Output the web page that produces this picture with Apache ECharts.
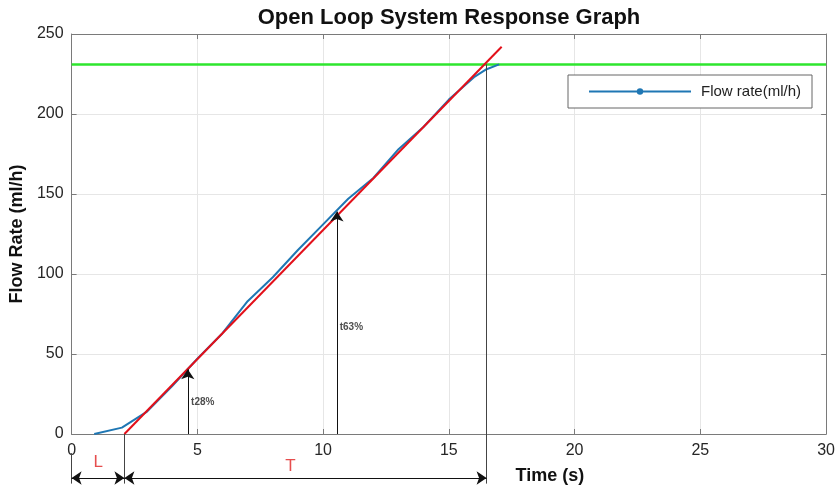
<!DOCTYPE html>
<html><head><meta charset="utf-8">
<script src="https://cdn.jsdelivr.net/npm/echarts@6/dist/echarts.min.js"></script>
<style>html,body{margin:0;padding:0;background:#fff}#c{width:838px;height:490px}</style>
</head><body><div id="c"></div>
<script>
// ---- data ----
const timeS    = [0.9, 2, 3, 4, 5, 6, 7, 8, 9, 10, 11, 12, 13, 14, 15, 16, 16.5, 17];
const flowRate = [0, 4, 14, 30, 47, 63, 83, 98, 115, 131, 147, 160, 178, 192, 209, 223, 228, 231];
const tangentT = [2.1, 17.1];
const tangentV = [0, 242];
const setpointT = [0, 30];
const setpointV = [231, 231];
const deadTime = 2.1;      // L ends / T starts
const riseEnd = 16.5;      // T ends
const t28 = [4.62, 40.4];  // arrow x, tip value
const t63 = [10.55, 139];
const dimY = -27.5;        // level of the L / T dimension arrows
const guideBottom = -31;   // lower end of the guide lines
const xTickMin = 0, xTickMax = 30, xTickStep = 5;
const yTickMin = 0, yTickMax = 250, yTickStep = 50;
const annoLabels = [
  {name: 'L', t: 1.06, v: -18, color: '#e02020', size: 17, weight: 'normal', align: 'center'},
  {name: 'T', t: 8.7, v: -20, color: '#e02020', size: 17, weight: 'normal', align: 'center'},
  {name: 't28%', t: 4.75, v: 20, color: '#222', size: 10, weight: 'bold', align: 'left'},
  {name: 't63%', t: 10.66, v: 67, color: '#222', size: 10, weight: 'bold', align: 'left'}
];
// ---- chart ----
const FONT = 'Liberation Sans, Arial, sans-serif';
const chart = echarts.init(document.getElementById('c'), null, {renderer: 'canvas'});
const pair = (a, b) => a.map((x, i) => [x, b[i]]);
const axisBase = {
  type: 'value',
  axisLine: {show: true, onZero: false, lineStyle: {color: '#7a7a7a', width: 1}},
  axisTick: {show: true, inside: true, length: 5, lineStyle: {color: '#7a7a7a'}},
  splitLine: {show: false}
};
const linesBase = {
  type: 'lines', coordinateSystem: 'cartesian2d', xAxisIndex: 0, yAxisIndex: 0,
  clip: false, silent: true, polyline: false, symbolSize: 10, z: 6
};
chart.setOption({
  animation: false,
  backgroundColor: '#fff',
  title: {
    text: 'Open Loop System Response Graph',
    left: 444, top: 2, textAlign: 'center',
    textStyle: {fontFamily: FONT, fontSize: 22, fontWeight: 'bold', color: '#111'}
  },
  grid: {left: 70, right: 10, top: 34, bottom: 56},
  legend: {
    data: ['Flow rate(ml/h)'],
    left: 568, top: 75,
    orient: 'horizontal',
    itemWidth: 102, itemHeight: 8,
    padding: [9, 11, 9, 20],
    borderColor: '#666', borderWidth: 1, backgroundColor: '#fff',
    textStyle: {fontFamily: FONT, fontSize: 15, color: '#222', padding: [0, 0, 0, 5]}
  },
  xAxis: [
    Object.assign({}, axisBase, {
      min: xTickMin, max: xTickMax, interval: xTickStep, position: 'bottom',
      name: 'Time (s)', nameLocation: 'middle', nameGap: 33,
      nameTextStyle: {fontFamily: FONT, fontSize: 18, fontWeight: 'bold', color: '#111', padding: [0, 0, 0, 202]},
      axisLabel: {fontFamily: FONT, fontSize: 16, color: '#262626', margin: 9},
      splitLine: {show: true, lineStyle: {color: '#e6e6e6', width: 1}}
    }),
    Object.assign({}, axisBase, {
      min: xTickMin, max: xTickMax, interval: xTickStep, position: 'top',
      axisLabel: {show: false}
    })
  ],
  yAxis: [
    Object.assign({}, axisBase, {
      min: yTickMin, max: yTickMax, interval: yTickStep, position: 'left',
      name: 'Flow Rate (ml/h)', nameLocation: 'middle', nameGap: 41,
      nameTextStyle: {fontFamily: FONT, fontSize: 18, fontWeight: 'bold', color: '#111'},
      axisLabel: {fontFamily: FONT, fontSize: 16, color: '#262626', margin: 8},
      splitLine: {show: true, lineStyle: {color: '#e6e6e6', width: 1}}
    }),
    Object.assign({}, axisBase, {
      min: yTickMin, max: yTickMax, interval: yTickStep, position: 'right',
      axisLabel: {show: false}
    })
  ],
  series: [
    {
      name: 'Setpoint', type: 'line', data: pair(setpointT, setpointV),
      symbol: 'none', lineStyle: {color: '#2ee62e', width: 2.5}, itemStyle: {color: '#2ee62e'},
      silent: true, z: 3
    },
    {
      name: 'Flow rate(ml/h)', type: 'line', data: pair(timeS, flowRate),
      symbol: 'circle', showSymbol: false,
      lineStyle: {color: '#1f77b4', width: 2}, itemStyle: {color: '#1f77b4'}, z: 4
    },
    {
      name: 'Tangent', type: 'line', data: pair(tangentT, tangentV),
      symbol: 'none', lineStyle: {color: '#e3101a', width: 2}, itemStyle: {color: '#e3101a'},
      clip: false, z: 5
    },
    Object.assign({}, linesBase, {
      name: 'Guides', symbol: ['none', 'none'],
      lineStyle: {color: '#444', width: 1, opacity: 1, curveness: 0},
      data: [
        {coords: [[0, -12], [0, guideBottom]]},
        {coords: [[deadTime, 0], [deadTime, guideBottom]]},
        {coords: [[riseEnd, setpointV[0]], [riseEnd, guideBottom]]}
      ]
    }),
    Object.assign({}, linesBase, {
      name: 'Spans', symbol: ['arrow', 'arrow'],
      lineStyle: {color: '#111', width: 1, opacity: 1, curveness: 0},
      data: [
        {coords: [[0, dimY], [deadTime, dimY]]},
        {coords: [[deadTime, dimY], [riseEnd, dimY]]}
      ]
    }),
    Object.assign({}, linesBase, {
      name: 'Marks', symbol: ['none', 'arrow'],
      lineStyle: {color: '#111', width: 1, opacity: 1, curveness: 0},
      data: [
        {coords: [[t28[0], 0], [t28[0], t28[1]]]},
        {coords: [[t63[0], 0], [t63[0], t63[1]]]}
      ]
    }),
    {
      name: 'Labels', type: 'scatter', symbolSize: 0, clip: false, silent: true, z: 7,
      data: annoLabels.map(a => ({
        name: a.name, value: [a.t, a.v],
        label: {show: true, position: 'inside', formatter: a.name, align: a.align, verticalAlign: 'middle',
          fontFamily: FONT, fontSize: a.size, fontWeight: a.weight, color: a.color}
      }))
    }
  ]
});
</script></body></html>
